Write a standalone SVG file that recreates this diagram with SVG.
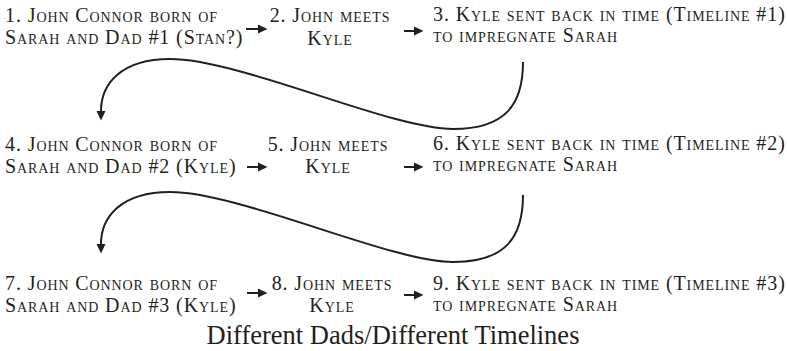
<svg xmlns="http://www.w3.org/2000/svg" width="787" height="351" viewBox="0 0 787 351">
<style>
.t{font-family:"Liberation Serif","Times New Roman",serif;font-size:20px;font-variant:small-caps;letter-spacing:0.9px;fill:#231f20}
.m{text-anchor:middle}
.title{font-family:"Liberation Serif","Times New Roman",serif;font-size:26.5px;fill:#231f20;text-anchor:middle}
.c{fill:none;stroke:#231f20;stroke-width:2}
</style>
<defs>
<marker id="ah" markerUnits="userSpaceOnUse" markerWidth="10" markerHeight="10" viewBox="0 0 10 10" refX="0" refY="5" orient="auto">
<path d="M0,0.5 L9.5,5 L0,9.5 z" fill="#231f20"/>
</marker>
</defs>
<rect width="787" height="351" fill="#fff"/>
<g id="n1"><text class="t" x="5" y="22">1. John Connor born of</text><text class="t" x="5" y="44">Sarah and Dad #1 (Stan?)</text></g>
<g id="n2"><text class="t m" x="330" y="22">2. John meets</text><text class="t m" x="330" y="45">Kyle</text></g>
<g id="n3"><text class="t" x="433" y="21">3. Kyle sent back in time (Timeline #1)</text><text class="t" x="433" y="42">to impregnate Sarah</text></g>
<g id="n4"><text class="t" x="5" y="150.5">4. John Connor born of</text><text class="t" x="5" y="173">Sarah and Dad #2 (Kyle)</text></g>
<g id="n5"><text class="t m" x="328" y="150.5">5. John meets</text><text class="t m" x="328" y="173">Kyle</text></g>
<g id="n6"><text class="t" x="433" y="149.5">6. Kyle sent back in time (Timeline #2)</text><text class="t" x="433" y="171">to impregnate Sarah</text></g>
<g id="n7"><text class="t" x="5" y="289.5">7. John Connor born of</text><text class="t" x="5" y="311.5">Sarah and Dad #3 (Kyle)</text></g>
<g id="n8"><text class="t m" x="332" y="289.5">8. John meets</text><text class="t m" x="332" y="312">Kyle</text></g>
<g id="n9"><text class="t" x="433" y="289.5">9. Kyle sent back in time (Timeline #3)</text><text class="t" x="433" y="311">to impregnate Sarah</text></g>
<g id="title"><text class="title" x="393" y="344">Different Dads/Different Timelines</text></g>
<g id="connectors">
<path class="c" marker-end="url(#ah)" d="M246,29 H258"/>
<path class="c" marker-end="url(#ah)" d="M404,31 H414"/>
<path class="c" marker-end="url(#ah)" d="M247,167 H258"/>
<path class="c" marker-end="url(#ah)" d="M404,167 H414"/>
<path class="c" marker-end="url(#ah)" d="M247,293 H258"/>
<path class="c" marker-end="url(#ah)" d="M404,295 H414"/>
<path class="c" marker-end="url(#ah)" d="M523,62 C523,105 505,129 453,129 C390,129 240,59 170,59 C120,59 101,85 101,111"/>
<path class="c" marker-end="url(#ah)" d="M523,195 C523,238 505,262 453,262 C390,262 240,192 170,192 C120,192 101,218 101,244"/>
</g>
</svg>
